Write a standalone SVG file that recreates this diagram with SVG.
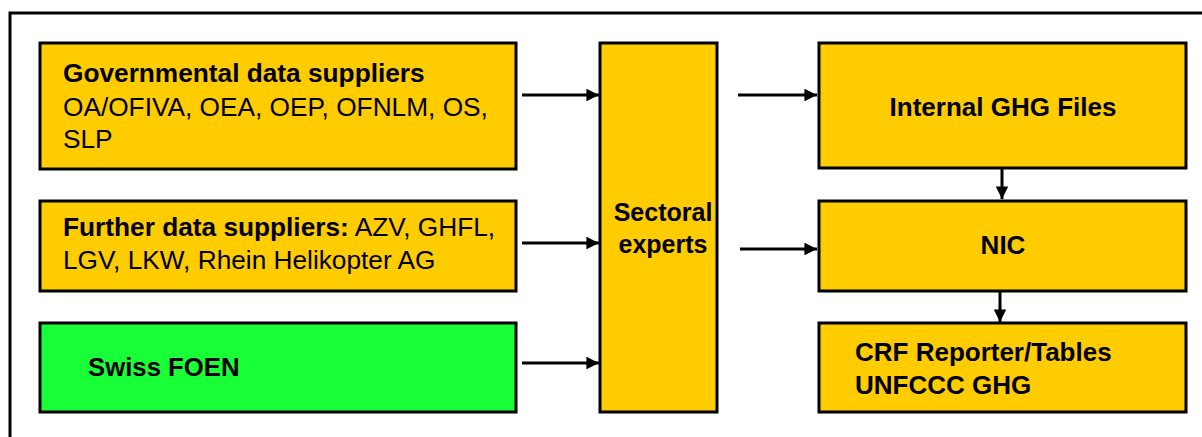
<svg xmlns="http://www.w3.org/2000/svg" width="1202" height="437" viewBox="0 0 1202 437">
<style>
.box{fill:#FFCC00;stroke:#000;stroke-width:3}
.green{fill:#19FF38;stroke:#000;stroke-width:3}
.t{font-family:"Liberation Sans",Arial,sans-serif;font-size:25px;fill:#000}
.b{font-weight:bold}
.c{stroke:#000;stroke-width:3;fill:none;marker-end:url(#ah)}
</style>
<defs>
<marker id="ah" viewBox="0 0 10 10" refX="10" refY="5" markerWidth="4.2" markerHeight="4.2" markerUnits="strokeWidth" orient="auto">
<path d="M0,0 L10,5 L0,10 Z" fill="#000"/>
</marker>
</defs>
<rect x="0" y="0" width="1202" height="437" fill="#fff"/>
<rect x="10" y="13" width="1300" height="500" fill="none" stroke="#000" stroke-width="3"/>
<g id="gov">
<rect class="box" x="40" y="43" width="476" height="126"/>
<text class="t b" transform="matrix(1.05 0 0 1 63 82)">Governmental data suppliers</text>
<text class="t" transform="matrix(1.05 0 0 1 63 116)">OA/OFIVA, OEA, OEP, OFNLM, OS,</text>
<text class="t" transform="matrix(1.05 0 0 1 63 148)">SLP</text>
</g>
<g id="further">
<rect class="box" x="40" y="201" width="476" height="90"/>
<text class="t" transform="matrix(1.05 0 0 1 63 236)"><tspan class="b">Further data suppliers:</tspan> AZV, GHFL,</text>
<text class="t" transform="matrix(1.05 0 0 1 63 269)">LGV, LKW, Rhein Helikopter AG</text>
</g>
<g id="foen">
<rect class="green" x="40" y="323" width="476" height="89"/>
<text class="t b" transform="matrix(1.03 0 0 1 88 376)">Swiss FOEN</text>
</g>
<g id="sectoral">
<rect class="box" x="600" y="43" width="117" height="369"/>
<text class="t b" text-anchor="middle" transform="matrix(1 0 0 1 663 221)">Sectoral</text>
<text class="t b" text-anchor="middle" transform="matrix(1 0 0 1 663 253)">experts</text>
</g>
<g id="internal">
<rect class="box" x="819" y="43" width="367" height="125"/>
<text class="t b" text-anchor="middle" transform="matrix(1.04 0 0 1 1003 116)">Internal GHG Files</text>
</g>
<g id="nic">
<rect class="box" x="819" y="201" width="367" height="90"/>
<text class="t b" text-anchor="middle" transform="matrix(1.04 0 0 1 1003 254)">NIC</text>
</g>
<g id="crf">
<rect class="box" x="819" y="323" width="367" height="89"/>
<text class="t b" transform="matrix(1.04 0 0 1 855 361)">CRF Reporter/Tables</text>
<text class="t b" transform="matrix(1.04 0 0 1 855 394)">UNFCCC GHG</text>
</g>
<g id="connectors">
<line class="c" x1="522" y1="95" x2="599" y2="95"/>
<line class="c" x1="522" y1="243" x2="599" y2="243"/>
<line class="c" x1="522" y1="363" x2="599" y2="363"/>
<line class="c" x1="738" y1="95" x2="817" y2="95"/>
<line class="c" x1="740" y1="249" x2="817" y2="249"/>
<line class="c" x1="1002" y1="169" x2="1002" y2="199"/>
<line class="c" x1="1000" y1="291" x2="1000" y2="322"/>
</g>
</svg>
